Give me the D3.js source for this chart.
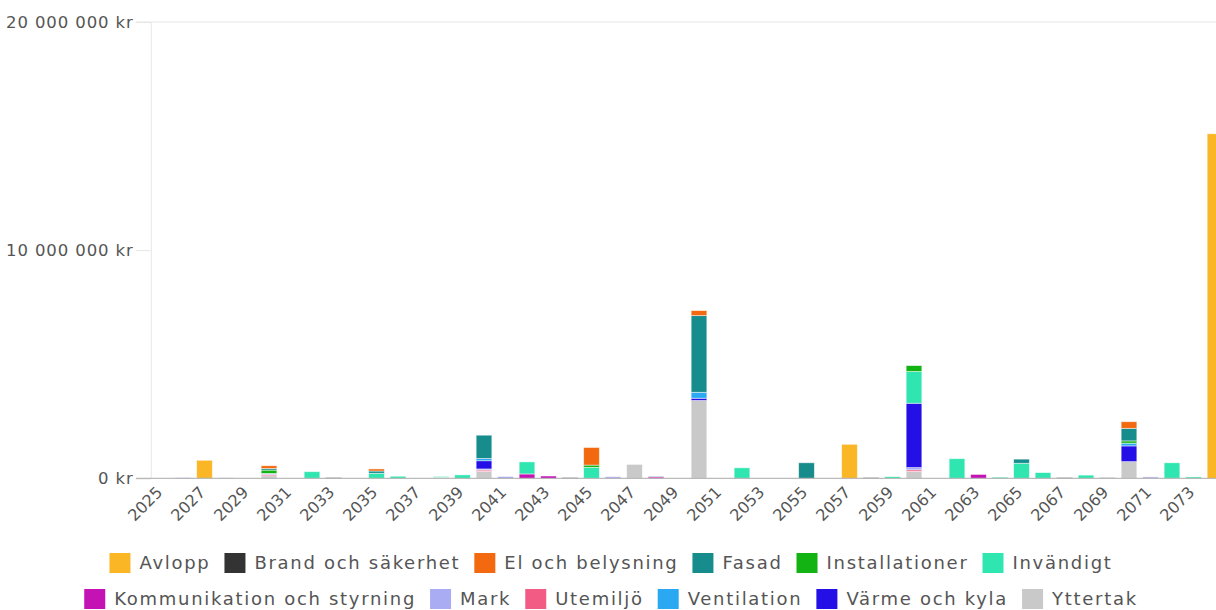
<!DOCTYPE html>
<html>
<head>
<meta charset="utf-8">
<script src="https://cdn.jsdelivr.net/npm/d3@7"></script>
<style>
  html, body { margin: 0; padding: 0; background: #fff; }
  svg { display: block; }
  text { font-family: "DejaVu Sans", sans-serif; }
</style>
</head>
<body>
<svg id="chart" width="1216" height="610"></svg>
<script>
// ---------------- DATA ----------------
const years = [2025,2026,2027,2028,2029,2030,2031,2032,2033,2034,2035,2036,2037,2038,2039,2040,2041,2042,2043,2044,2045,2046,2047,2048,2049,2050,2051,2052,2053,2054,2055,2056,2057,2058,2059,2060,2061,2062,2063,2064,2065,2066,2067,2068,2069,2070,2071,2072,2073,2074];
const xTickYears = [2025,2027,2029,2031,2033,2035,2037,2039,2041,2043,2045,2047,2049,2051,2053,2055,2057,2059,2061,2063,2065,2067,2069,2071,2073];
const yTickValues = [0, 10000000, 20000000];
const yTickLabels = ["0 kr", "10 000 000 kr", "20 000 000 kr"];

const seriesNames = ["Avlopp","Brand och säkerhet","El och belysning","Fasad","Installationer","Invändigt","Kommunikation och styrning","Mark","Utemiljö","Ventilation","Värme och kyla","Yttertak"];
const seriesColors = ["#fbb625","#333333","#f2690f","#178c8c","#12b312","#30e6b0","#c412b4","#a9acf2","#f25c84","#2aa9f2","#2410e6","#c9c9c9"];
// stacking order, bottom to top
const stackOrder = ["Yttertak","Utemiljö","Mark","Värme och kyla","Ventilation","Kommunikation och styrning","Invändigt","Installationer","Fasad","El och belysning","Brand och säkerhet","Avlopp"];

// values in kr, one per year 2025..2074
const avlopp =          [0,0,790000,0,0,0,0,0,0,0, 0,0,0,0,0,0,0,0,0,0, 0,0,0,0,0,0,0,0,0,0, 0,0,1490000,0,0,0,0,0,0,0, 0,0,0,0,0,0,0,0,0,15100000];
const brand =           [0,0,0,0,0,0,0,0,30000,0, 0,0,0,0,0,0,0,0,0,30000, 0,0,0,20000,0,0,0,0,0,0, 0,0,0,30000,0,0,0,0,0,0, 0,0,30000,0,0,0,0,0,0,0];
const elBelysning =     [0,0,0,0,0,120000,0,0,0,0, 90000,0,0,0,0,0,0,0,0,0, 770000,0,0,0,0,220000,0,0,0,0, 0,0,0,0,0,0,0,0,0,0, 0,0,0,0,0,290000,0,0,0,0];
const fasad =           [0,0,0,0,0,70000,0,0,0,0, 100000,0,0,0,0,1020000,0,0,0,0, 0,0,0,0,0,3360000,0,0,0,0, 680000,0,0,0,0,0,0,0,0,0, 180000,0,0,0,0,550000,0,0,0,0];
const installationer =  [0,0,0,0,0,150000,0,0,0,0, 0,0,0,0,0,0,0,0,0,0, 100000,0,0,0,0,0,0,0,0,0, 0,0,0,0,0,260000,0,0,0,0, 0,0,0,0,0,100000,0,0,0,0];
const invandigt =       [0,0,0,0,0,0,0,290000,0,0, 220000,90000,0,40000,150000,0,0,530000,0,0, 480000,0,0,0,0,0,0,460000,0,0, 0,0,0,0,70000,1390000,0,860000,0,50000, 660000,250000,0,140000,0,0,0,680000,60000,0];
const kommunikation =   [0,0,0,0,0,0,0,0,0,0, 0,0,0,0,0,0,0,190000,100000,0, 0,0,0,60000,0,0,0,0,0,0, 0,0,0,0,0,0,0,0,170000,0, 0,0,0,0,0,0,0,0,0,0];
const mark =            [0,30000,0,20000,0,50000,0,0,0,0, 0,0,0,0,0,50000,80000,0,0,0, 0,70000,0,0,0,0,0,0,0,0, 0,0,0,0,0,100000,0,0,0,0, 0,0,0,0,0,0,60000,0,0,0];
const utemiljo =        [0,0,0,0,0,50000,0,0,0,0, 0,0,0,0,0,60000,0,0,0,0, 0,0,0,0,0,0,0,0,0,0, 0,0,0,0,0,70000,0,0,0,0, 0,0,0,0,0,0,0,0,0,0];
const ventilation =     [0,0,0,0,0,0,0,0,0,0, 0,0,0,0,0,100000,0,0,0,0, 0,0,0,0,0,260000,0,0,0,0, 0,0,0,0,0,0,0,0,0,0, 0,0,0,0,0,120000,0,0,0,0];
const varmeKyla =       [0,0,0,0,0,0,0,0,0,0, 0,0,0,0,0,360000,0,0,0,0, 0,0,0,0,0,100000,0,0,0,0, 0,0,0,0,0,2820000,0,0,0,0, 0,0,0,0,0,690000,0,0,0,0];
const yttertak =        [0,0,0,0,0,110000,0,0,0,0, 0,0,0,40000,0,300000,0,0,0,0, 0,0,610000,0,0,3410000,0,0,0,0, 0,0,0,0,0,300000,0,0,0,0, 0,0,0,0,50000,730000,0,0,0,0];

const seriesValues = {
  "Avlopp": avlopp,
  "Brand och säkerhet": brand,
  "El och belysning": elBelysning,
  "Fasad": fasad,
  "Installationer": installationer,
  "Invändigt": invandigt,
  "Kommunikation och styrning": kommunikation,
  "Mark": mark,
  "Utemiljö": utemiljo,
  "Ventilation": ventilation,
  "Värme och kyla": varmeKyla,
  "Yttertak": yttertak
};

// ---------------- CHART ----------------
const svg = d3.select("#chart");
const W = 1216;
const plotLeft = 150.75, plotRight = 1225.75, plotTop = 22, plotBottom = 478.3;
const FONT = '"DejaVu Sans", sans-serif';

const rows = years.map((y, i) => {
  const r = { year: y };
  seriesNames.forEach(n => r[n] = seriesValues[n][i]);
  return r;
});

const x = d3.scaleBand().domain(years).range([plotLeft, plotRight]).paddingInner(0.27).paddingOuter(0.135);
const y = d3.scaleLinear().domain([0, 20000000]).range([plotBottom, plotTop]);
const color = d3.scaleOrdinal().domain(seriesNames).range(seriesColors);

// top grid line
svg.append("line").attr("x1", 136).attr("x2", W).attr("y1", y(20000000)).attr("y2", y(20000000))
  .attr("stroke", "#e6e6e6").attr("stroke-width", 1);

// y axis
const yAxis = svg.append("g").attr("transform", `translate(${plotLeft},0)`)
  .call(d3.axisLeft(y).tickValues(yTickValues).tickSize(15).tickPadding(2)
    .tickFormat((d, i) => yTickLabels[i]));
yAxis.select(".domain").attr("stroke", "#e6e6e6");
yAxis.selectAll(".tick line").attr("stroke", "#e6e6e6");
yAxis.selectAll(".tick text").attr("fill", "#555").style("font-size", "16.5px")
  .style("letter-spacing", "0.9px").style("font-family", FONT);

// bars
const stack = d3.stack().keys(stackOrder);
const stacked = stack(rows);
const layers = svg.append("g");
layers.selectAll("g").data(stacked).join("g")
  .attr("fill", d => color(d.key))
  .selectAll("rect").data(d => d.filter(p => p[1] - p[0] > 0)).join("rect")
  .attr("x", d => x(d.data.year))
  .attr("width", x.bandwidth())
  .attr("y", d => y(d[1]))
  .attr("height", d => y(d[0]) - y(d[1]))
  .attr("stroke", "rgba(255,255,255,0.6)")
  .attr("stroke-width", 0.8);

// baseline
svg.append("line").attr("x1", 136).attr("x2", W).attr("y1", plotBottom).attr("y2", plotBottom)
  .attr("stroke", "#aaa").attr("stroke-width", 1);

// x axis labels
const xAxis = svg.append("g").attr("transform", `translate(0,${plotBottom})`)
  .call(d3.axisBottom(x).tickValues(xTickYears).tickSize(0).tickPadding(0));
xAxis.select(".domain").remove();
xAxis.selectAll(".tick text")
  .attr("fill", "#555")
  .style("font-size", "16px")
  .style("font-family", FONT)
  .attr("text-anchor", "end")
  .attr("dy", null)
  .attr("y", 0)
  .attr("transform", "translate(2,15) rotate(-45)");

// legend
const legendRows = [seriesNames.slice(0, 6), seriesNames.slice(6)];
const legendY = [563, 599];
const legend = svg.append("g");
legendRows.forEach((names, ri) => {
  const g = legend.append("g");
  let cx = 0;
  names.forEach(n => {
    const item = g.append("g").attr("transform", `translate(${cx},0)`);
    item.append("rect").attr("x", 0).attr("y", -10).attr("width", 21).attr("height", 20).attr("fill", color(n));
    const t = item.append("text").attr("x", 30).attr("y", 0).attr("dy", "0.35em")
      .attr("fill", "#555").style("font-size", "18px").style("letter-spacing", "1.7px")
      .style("font-family", FONT).text(n);
    const tw = t.node().getComputedTextLength();
    cx += 30 + tw + 14;
  });
  const total = cx - 14;
  g.attr("transform", `translate(${611 - total / 2},${legendY[ri]})`);
});
</script>
</body>
</html>
